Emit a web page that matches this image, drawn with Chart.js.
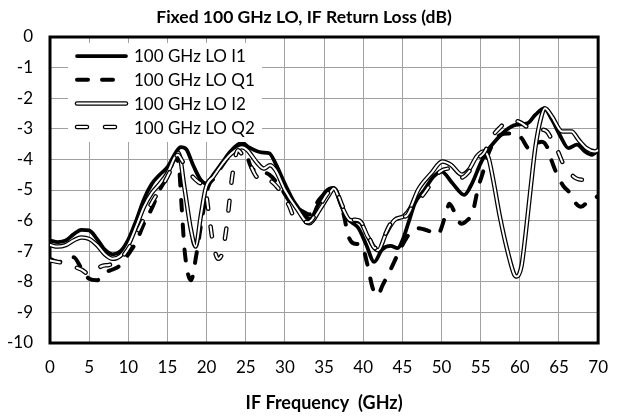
<!DOCTYPE html>
<html lang="en">
<head>
  <meta charset="UTF-8">
  <title>IF Return Loss</title>
  <script src="https://cdn.jsdelivr.net/npm/chart.js"></script>
  <style>
    body { margin: 0; background: #fff; }
    canvas { display: block; }
  </style>
</head>
<body>
<canvas id="rlChart" width="622" height="417"></canvas>
<script>
    const seriesNames = ['100 GHz LO I1', '100 GHz LO Q1', '100 GHz LO I2', '100 GHz LO Q2'];

    // frequency (GHz) / return loss (dB)
    const i1Freq = [0, 1, 2, 3, 4, 5, 6, 7, 8, 9, 10, 11, 12, 13, 14, 15, 16, 16.7, 17.4, 18.3, 19.2, 19.9, 21, 22, 23, 24.5, 25.5, 27, 28, 28.8, 30, 31.2, 32.5, 33.2, 34.2, 35.2, 36.2, 37, 37.7, 38.5, 39.4, 40.4, 41.4, 42.4, 43.5, 44.4, 45, 45.8, 46.6, 47.8, 49, 50, 51.4, 52.9, 53.9, 55, 55.8, 57, 58.3, 59.5, 61, 62, 63.1, 64.1, 65.2, 66.2, 67.3, 68.3, 69.2, 70];
    const i1Loss = [-6.65, -6.7, -6.65, -6.45, -6.3, -6.32, -6.6, -6.95, -7.1, -7.0, -6.62, -6.0, -5.3, -4.8, -4.5, -4.25, -3.8, -3.6, -3.67, -4.2, -4.65, -4.78, -4.45, -4.1, -3.75, -3.46, -3.62, -3.77, -3.8, -4.13, -4.8, -5.4, -5.82, -5.95, -5.5, -5.05, -4.93, -5.35, -5.85, -6.05, -6.25, -6.8, -7.35, -6.95, -6.83, -6.9, -6.65, -6.05, -5.43, -5.0, -4.56, -4.4, -4.78, -5.16, -4.78, -4.12, -3.74, -3.36, -3.03, -2.87, -2.82, -2.54, -2.33, -2.7, -3.25, -3.63, -3.52, -3.74, -3.85, -3.69];

    const q1Freq = [0, 1, 2, 3, 4, 5, 6, 7, 8, 9, 10, 11, 12, 13, 14, 15, 16, 16.4, 16.8, 17.2, 18, 18.7, 19.5, 20.2, 21, 22, 23, 24.5, 25.8, 27, 28, 29.4, 30.8, 32.3, 33.1, 34.4, 35.2, 36.25, 37.5, 38.1, 38.8, 39.8, 40.5, 41.2, 41.8, 42.5, 43.5, 44.5, 45, 46, 47, 48.5, 49.5, 50.6, 51, 51.8, 52.5, 53, 54, 54.7, 55.2, 56, 57.5, 58.5, 59.5, 60.2, 61.2, 62, 62.8, 63.5, 64, 64.6, 65.5, 66.4, 67.2, 67.8, 68.7, 70];
    const q1Loss = [-7.25, -7.35, -7.3, -7.2, -7.55, -7.9, -7.95, -7.7, -7.6, -7.45, -7.1, -6.7, -6.1, -5.6, -5.0, -4.55, -4.0, -4.1, -5.5, -7.0, -7.95, -7.1, -5.8, -4.9, -4.6, -4.2, -3.85, -3.5, -4.3, -4.4, -4.5, -4.9, -5.44, -5.7, -5.8, -5.3, -5.1, -4.95, -5.8, -6.5, -6.75, -6.8, -7.4, -8.2, -8.45, -8.1, -7.6, -7.05, -6.8, -6.4, -6.25, -6.35, -6.45, -5.75, -5.45, -5.8, -6.1, -6.05, -5.7, -4.9, -4.5, -3.8, -3.2, -3.15, -3.15, -3.3, -3.65, -3.5, -3.42, -3.6, -4.0, -4.4, -4.85, -5.1, -5.45, -5.55, -5.38, -5.2];

    const i2Freq = [0, 1, 2, 3, 4, 5, 6, 7, 8, 9, 10, 11, 12, 13, 14, 15, 16, 16.4, 17.2, 18, 18.6, 19.25, 19.9, 20.9, 22, 23, 24.5, 25.2, 26.5, 27.3, 28.1, 28.8, 30, 31.5, 33.1, 34.4, 35.6, 36.25, 37.3, 38.3, 39.6, 40.6, 41.9, 42.9, 44, 45.2, 46, 47, 48.7, 50.1, 51.2, 52.6, 53.5, 54.5, 55.4, 56, 56.6, 57.45, 58.5, 59.3, 59.6, 60.2, 60.8, 61.4, 62, 62.7, 63.2, 64.1, 65.4, 66.6, 67.5, 68.5, 69.6, 70];
    const i2Loss = [-6.8, -6.85, -6.8, -6.65, -6.55, -6.6, -6.8, -7.1, -7.25, -7.15, -6.8, -6.2, -5.55, -5.1, -4.8, -4.45, -3.9, -3.78, -4.98, -6.3, -6.85, -5.86, -4.93, -4.55, -4.15, -3.85, -3.6, -3.7, -4.13, -4.3, -4.19, -4.35, -5.0, -5.6, -6.09, -5.66, -5.17, -4.95, -5.55, -5.98, -6.04, -6.53, -6.97, -6.43, -5.98, -5.85, -5.6, -5.0, -4.45, -4.07, -4.18, -4.5, -4.34, -3.9, -3.74, -3.95, -4.67, -5.87, -7.07, -7.77, -7.83, -7.5, -6.3, -4.89, -3.58, -2.65, -2.33, -2.6, -3.09, -3.09, -3.36, -3.63, -3.74, -3.7];

    const q2Freq = [0, 1, 2, 3, 4, 5, 5.8, 6.5, 7.5, 8.5, 9.5, 10.5, 11.5, 12.5, 13.5, 14.5, 15.5, 16.3, 17, 18, 19, 19.8, 20.3, 20.8, 21.5, 22, 22.5, 22.9, 23.3, 24, 24.8, 25.5, 26.2, 27.2, 28, 29, 30.5, 31.3, 33, 34.5, 35.5, 36.25, 37.5, 38.5, 39.5, 40.5, 41.5, 42.5, 43.5, 44.5, 45.5, 46.5, 47.5, 48.5, 49.8, 51, 52.5, 53.5, 54.5, 55.4, 56.5, 57.5, 58.6, 60, 61, 62, 62.9, 63.5, 64.1, 64.8, 65.6, 66.4, 67.2, 68.1, 69, 70];
    const q2Loss = [-7.3, -7.35, -7.4, -7.5, -7.6, -7.75, -7.7, -7.5, -7.45, -7.35, -7.1, -6.7, -6.2, -5.65, -5.2, -4.8, -4.3, -3.85, -4.1, -4.5, -4.75, -4.95, -5.8, -6.7, -7.25, -7.05, -6.3, -5.4, -4.5, -3.7, -3.95, -4.15, -4.5, -4.75, -4.7, -4.9, -5.5, -5.95, -6.05, -5.5, -5.1, -4.95, -5.6, -5.95, -6.0, -6.4, -6.9, -6.6, -6.1, -5.9, -5.85, -5.4, -5.2, -4.85, -4.4, -4.3, -4.6, -4.4, -4.0, -3.8, -3.25, -2.95, -2.72, -2.78, -2.95, -3.05, -3.03, -3.1, -3.36, -3.7, -4.18, -4.45, -4.62, -4.67, -4.65, -4.6];

    const FONT = 'Lato';

    // line looks: hollow lines are a black stroke with a white core on top
    const lineLooks = [
        { width: 3.75, dash: [] },
        { width: 4, dash: [11, 14] },
        { width: 4.5, core: 2, dash: [] },
        { width: 4.5, core: 2, dash: [10, 18] }
    ];

    function toPoints(freqs, vals) {
        return freqs.map((f, i) => ({ x: f, y: vals[i] }));
    }

    const seriesData = [
        toPoints(i1Freq, i1Loss),
        toPoints(q1Freq, q1Loss),
        toPoints(i2Freq, i2Loss),
        toPoints(q2Freq, q2Loss)
    ];

    const datasets = [];
    let order = 20;
    seriesData.forEach((pts, i) => {
        const look = lineLooks[i];
        const base = {
            data: pts,
            pointRadius: 0,
            cubicInterpolationMode: 'monotone',
            borderCapStyle: 'round',
            borderJoinStyle: 'round',
            borderDash: look.dash,
            fill: false
        };
        datasets.push(Object.assign({}, base, {
            label: seriesNames[i], borderColor: '#000', borderWidth: look.width, order: order--
        }));
        if (look.core) {
            datasets.push(Object.assign({}, base, {
                label: seriesNames[i] + ' core', borderColor: '#fff', borderWidth: look.core, order: order--
            }));
        }
    });

    const plotFrame = {
        id: 'plotFrame',
        beforeDatasetsDraw(chart) {
            const { ctx, chartArea: a } = chart;
            ctx.save();
            ctx.strokeStyle = '#000';
            ctx.lineWidth = 3;
            ctx.strokeRect(a.left, a.top, a.right - a.left, a.bottom - a.top);
            ctx.restore();
        }
    };

    function strokeSample(ctx, look, x1, x2, y) {
        ctx.lineCap = 'round';
        ctx.setLineDash(look.dash);
        ctx.strokeStyle = '#000';
        ctx.lineWidth = look.width;
        ctx.beginPath(); ctx.moveTo(x1, y); ctx.lineTo(x2, y); ctx.stroke();
        if (look.core) {
            ctx.strokeStyle = '#fff';
            ctx.lineWidth = look.core;
            ctx.beginPath(); ctx.moveTo(x1, y); ctx.lineTo(x2, y); ctx.stroke();
        }
    }

    const boxLegend = {
        id: 'boxLegend',
        afterDatasetsDraw(chart) {
            const { ctx, chartArea: a } = chart;
            ctx.save();
            ctx.fillStyle = '#fff';
            ctx.fillRect(a.left + 18, a.top + 6, 194, 99);
            ctx.font = '17px ' + FONT;
            ctx.textBaseline = 'middle';
            seriesNames.forEach((name, i) => {
                const y = a.top + 19 + i * 23.7;
                strokeSample(ctx, lineLooks[i], a.left + 27, a.left + 76, y);
                ctx.setLineDash([]);
                ctx.fillStyle = '#000';
                ctx.fillText(name, a.left + 84, y + 1);
            });
            ctx.restore();
        }
    };

    new Chart(document.getElementById('rlChart'), {
        type: 'line',
        data: { datasets: datasets },
        plugins: [plotFrame, boxLegend],
        options: {
            responsive: false,
            animation: false,
            devicePixelRatio: 1,
            layout: { padding: { top: 0, right: 14, bottom: 0, left: 0 } },
            plugins: {
                legend: { display: false },
                tooltip: { enabled: false },
                title: {
                    display: true,
                    text: 'Fixed 100 GHz LO, IF Return Loss (dB)',
                    color: '#000',
                    font: { family: FONT, size: 17.5, weight: 'bold' },
                    padding: { top: 7, bottom: 9 }
                }
            },
            scales: {
                x: {
                    type: 'linear',
                    min: 0,
                    max: 70,
                    ticks: { stepSize: 5, color: '#000', padding: 14, font: { family: FONT, size: 17 } },
                    grid: { color: '#a0a0a0', lineWidth: 1, drawTicks: false },
                    border: { display: false },
                    title: {
                        display: true,
                        text: 'IF Frequency  (GHz)',
                        color: '#000',
                        font: { family: FONT, size: 18, weight: 'bold' },
                        padding: { top: 0, bottom: 3 }
                    },
                    afterFit(scale) { scale.height = 74; }
                },
                y: {
                    min: -10,
                    max: 0,
                    ticks: { stepSize: 1, color: '#000', padding: 17, font: { family: FONT, size: 17 } },
                    grid: { color: '#a0a0a0', lineWidth: 1, drawTicks: false },
                    border: { display: false },
                    afterFit(scale) { scale.width = 50; }
                }
            }
        }
    });
</script>
</body>
</html>
